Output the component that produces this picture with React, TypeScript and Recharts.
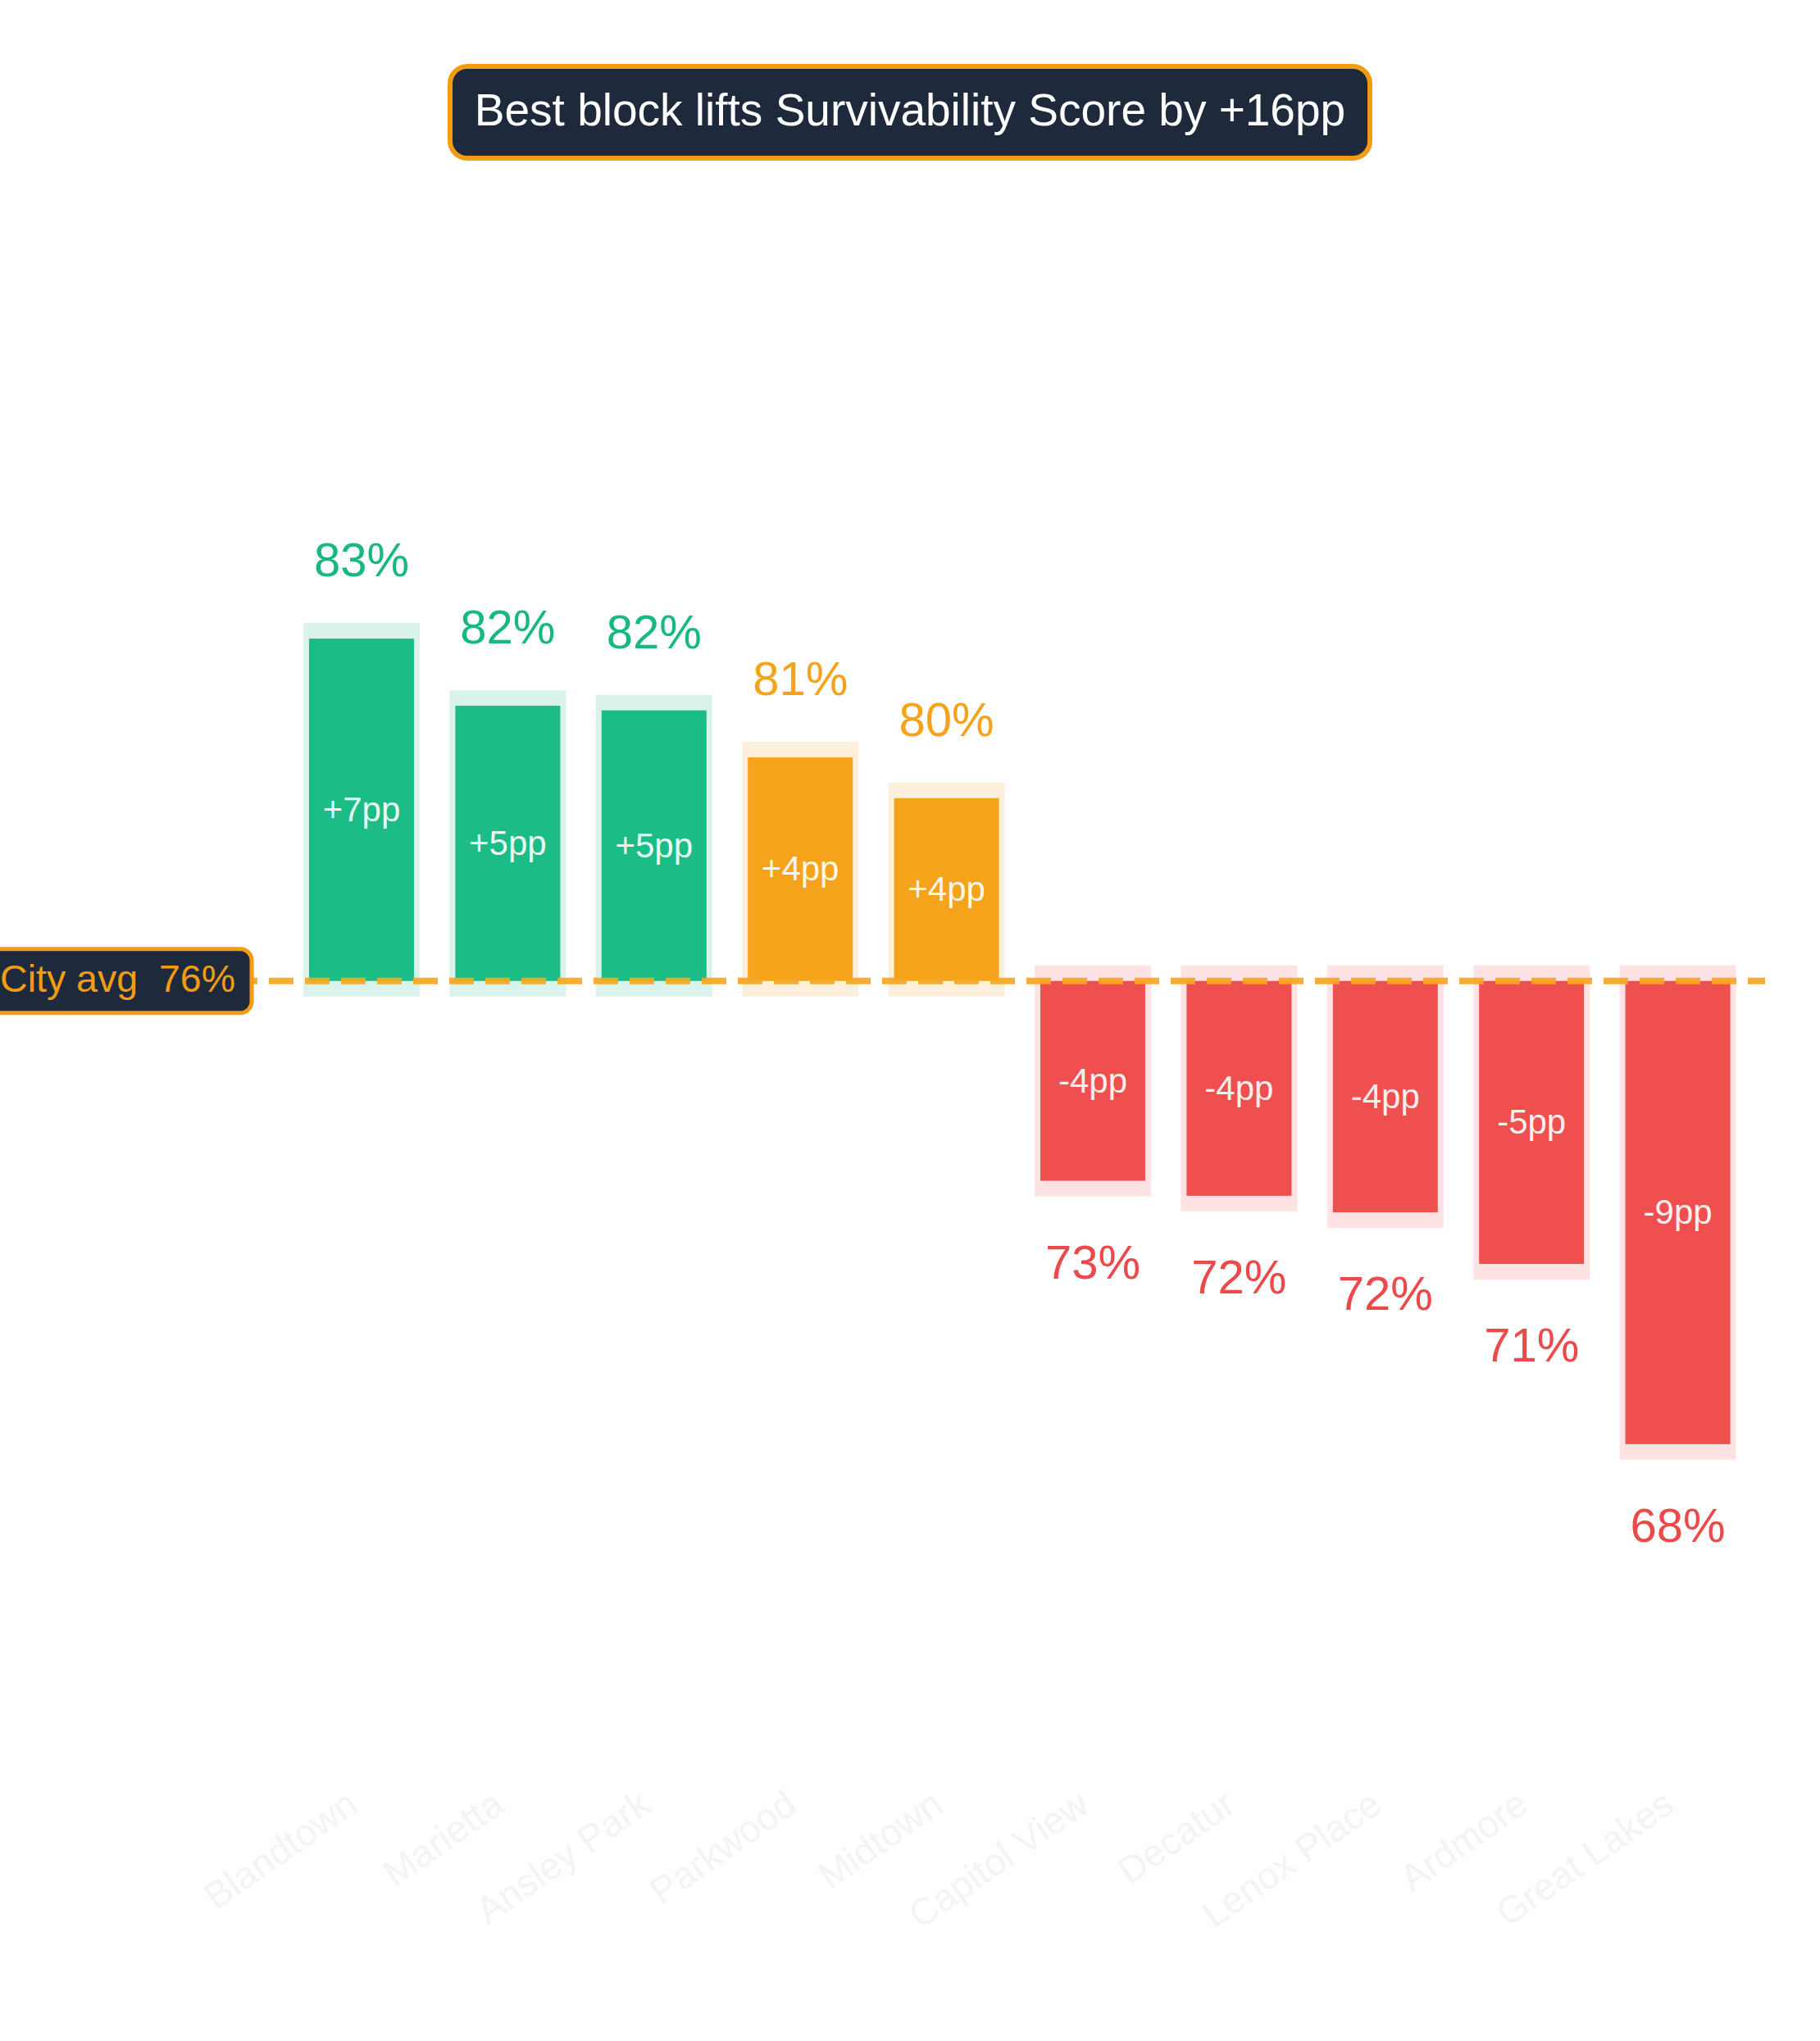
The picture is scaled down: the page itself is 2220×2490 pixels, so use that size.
import React from 'react';
import { BarChart, Bar, XAxis, YAxis, ReferenceLine } from 'recharts';

// Survivability score per block
const blocks = ['Blandtown', 'Marietta', 'Ansley Park', 'Parkwood', 'Midtown', 'Capitol View', 'Decatur', 'Lenox Place', 'Ardmore', 'Great Lakes'];
const scores = [83.11, 81.81, 81.72, 80.81, 80.02, 72.61, 72.32, 72.0, 71.0, 67.51];
const cityAvg = 76.48;
const yDomain = [61, 91];

const FONT = '"Liberation Sans", Arial, Helvetica, sans-serif';
const NAVY = '#1e2a3c';
const AMBER = '#f5a623';

const tones = {
  up: { bar: '#1bbc86', halo: '#daf4eb', text: '#18b883' },
  mid: { bar: '#f4a31a', halo: '#fcf0dc', text: '#f4a31a' },
  down: { bar: '#ef4f4e', halo: '#fde3e4', text: '#ec4a4a' },
};

const toneFor = (delta: number) => (delta >= 5 ? tones.up : delta > 0 ? tones.mid : tones.down);

const data = blocks.map((block, i) => {
  const score = scores[i];
  const delta = score - cityAvg;
  return {
    block,
    score,
    delta,
    range: [Math.min(score, cityAvg), Math.max(score, cityAvg)],
  };
});

const fmtDelta = (d: number) => {
  const r = Math.round(d);
  return `${r > 0 ? '+' : ''}${r}pp`;
};

const HaloBar = (props: any) => {
  const { x, y, width, height, payload } = props;
  const top = Math.min(y, y + height);
  const h = Math.abs(height);
  const tone = toneFor(payload.delta);
  const up = payload.delta > 0;
  const labelY = up ? top - 76 : top + h + 119;
  return (
    <g>
      <rect x={x - 7} y={top - 19} width={width + 14} height={h + 38} fill={tone.halo} />
      <rect x={x} y={top} width={width} height={h} fill={tone.bar} />
      <text
        x={x + width / 2}
        y={top + h / 2 + 14}
        textAnchor="middle"
        fontFamily={FONT}
        fontSize={42}
        fill="#ffffff"
        fillOpacity={0.93}
      >
        {fmtDelta(payload.delta)}
      </text>
      <text x={x + width / 2} y={labelY} textAnchor="middle" fontFamily={FONT} fontSize={58} fill={tone.text}>
        {`${Math.round(payload.score)}%`}
      </text>
    </g>
  );
};

const BlockTick = ({ x, y, payload }: any) => (
  <g transform={`translate(${x},${y})`}>
    <text
      x={-2}
      y={36}
      textAnchor="end"
      transform="rotate(-35 -2 36)"
      fontFamily={FONT}
      fontSize={46}
      fill="#f2f4f6"
    >
      {payload.value}
    </text>
  </g>
);

const AvgBadge = ({ viewBox }: any) => {
  const right = viewBox.x + 287;
  const cy = viewBox.y;
  return (
    <g>
      <rect x={-19} y={cy - 39} width={right + 19} height={78} rx={14} fill={NAVY} stroke="#f39c12" strokeWidth={5} />
      <text
        x={right - 20}
        y={cy + 13}
        textAnchor="end"
        fontFamily={FONT}
        fontSize={46.5}
        fill="#f39c12"
        style={{ whiteSpace: 'pre' }}
      >
        {`City avg  ${Math.round(cityAvg)}%`}
      </text>
    </g>
  );
};

const App: React.FC = () => {
  return (
    <div style={{ position: 'absolute', left: 0, top: 0, width: 2220, height: 2490, background: '#ffffff', fontFamily: FONT }}>
      <div style={{ position: 'absolute', left: 0, top: 78, width: 2220, display: 'flex', justifyContent: 'center', zIndex: 2 }}>
        <div
          style={{
            height: 106,
            lineHeight: '100px',
            padding: '0 27px',
            background: NAVY,
            border: '6px solid #f39c12',
            borderRadius: 24,
            color: '#ffffff',
            fontSize: 55,
            whiteSpace: 'nowrap',
          }}
        >
          Best block lifts Survivability Score by +16pp
        </div>
      </div>
      <BarChart
        width={2220}
        height={2490}
        data={data}
        margin={{ top: 282, right: 67, bottom: 118, left: 20 }}
        barCategoryGap="14%"
      >
        <XAxis
          dataKey="block"
          axisLine={false}
          tickLine={false}
          tickSize={0}
          tickMargin={0}
          interval={0}
          height={200}
          padding={{ left: 332, right: 17 }}
          tick={<BlockTick />}
        />
        <YAxis hide domain={yDomain} allowDataOverflow />
        <Bar dataKey="range" shape={<HaloBar />} isAnimationActive={false} />
        <ReferenceLine
          y={cityAvg}
          stroke={AMBER}
          strokeWidth={8}
          strokeOpacity={0.92}
          strokeDasharray="30 14"
          label={<AvgBadge />}
        />
      </BarChart>
    </div>
  );
};

export default App;
